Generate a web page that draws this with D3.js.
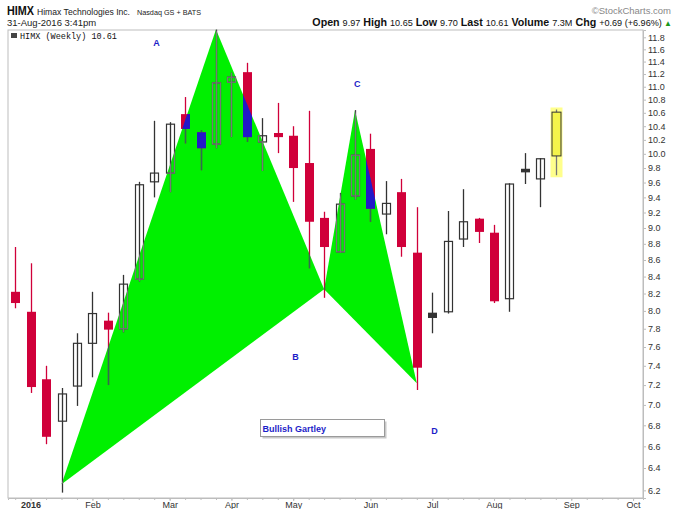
<!DOCTYPE html>
<html><head><meta charset="utf-8">
<script src="https://cdn.jsdelivr.net/npm/d3@7"></script>
<style>
body{margin:0;background:#fff;}
svg{display:block;font-family:"Liberation Sans",Arial,sans-serif;}
</style></head>
<body>
<svg id="c" width="680" height="509"></svg>
<script>
// ---- data ----
const dates = ["2015-12-28","2016-01-04","2016-01-11","2016-01-18","2016-01-25","2016-02-01","2016-02-08","2016-02-15","2016-02-22","2016-02-29","2016-03-07","2016-03-14","2016-03-21","2016-03-28","2016-04-04","2016-04-11","2016-04-18","2016-04-25","2016-05-02","2016-05-09","2016-05-16","2016-05-23","2016-05-30","2016-06-06","2016-06-13","2016-06-20","2016-06-27","2016-07-04","2016-07-11","2016-07-18","2016-07-25","2016-08-01","2016-08-08","2016-08-15","2016-08-22","2016-08-29"];
const opens  = [8.22,7.99,7.26,6.84,7.19,7.64,7.89,7.80,8.37,9.61,9.73,10.58,10.31,10.14,11.07,11.23,10.17,10.30,10.26,9.87,9.13,8.70,9.42,10.07,9.18,9.47,8.69,7.98,7.99,8.86,9.12,8.94,8.14,9.79,9.65,9.97];
const highs  = [8.76,8.56,7.40,7.17,7.75,8.22,7.98,8.42,9.61,10.48,10.46,10.84,10.34,11.93,11.22,11.38,10.52,10.75,10.40,10.63,9.21,9.46,10.64,10.29,9.62,9.65,9.27,8.21,9.22,9.51,9.13,9.04,9.59,10.01,9.94,10.65];
const lows   = [8.03,7.12,6.62,6.18,6.99,7.28,7.20,7.76,8.34,9.40,9.47,10.15,9.77,10.08,10.24,10.17,9.76,10.01,9.34,8.50,8.15,8.69,9.37,9.08,8.92,8.64,7.15,7.75,7.97,8.76,8.81,8.09,7.99,9.58,9.27,9.70];
const closes = [8.09,7.18,6.69,7.11,7.64,7.97,7.79,8.31,9.57,9.73,10.43,10.36,10.08,11.06,11.15,10.24,10.26,10.24,9.80,9.08,8.76,9.31,9.98,9.25,9.32,8.76,7.38,7.92,8.83,9.08,8.95,8.11,9.58,9.74,9.93,10.61];

// Gartley pattern points (X, A, B, C, D)
const patternNames  = ["X","A","B","C","D"];
const patternDates  = ["2016-01-18","2016-03-28","2016-05-16","2016-05-30","2016-06-27"];
const patternPrices = [6.255,11.93,8.25,10.64,7.22];
// letter annotations
const labelTexts  = ["A","B","C","D"];
const labelDates  = ["2016-03-01","2016-05-03","2016-05-31","2016-07-05"];
const labelPrices = [11.65,7.46,11.0,6.72];
const boxText = "Bullish Gartley";
const boxDate = "2016-04-17", boxPrice = 6.86;

const priceTicks = [11.8,11.6,11.4,11.2,11.0,10.8,10.6,10.4,10.2,10.0,9.8,9.6,9.4,9.2,9.0,8.8,8.6,8.4,8.2,8.0,7.8,7.6,7.4,7.2,7.0,6.8,6.6,6.4,6.2];
const monthTickDates  = ["2016-01-04","2016-02-01","2016-03-07","2016-04-04","2016-05-02","2016-06-06","2016-07-04","2016-08-01","2016-09-05","2016-10-03"];
const monthTickLabels = ["2016","Feb","Mar","Apr","May","Jun","Jul","Aug","Sep","Oct"];

const quoteLabels = ["Open","High","Low","Last","Volume","Chg"];
const quoteValues = ["9.97","10.65","9.70","10.61","7.3M","+0.69 (+6.96%)"];

// ---- layout ----
const svg = d3.select("#c");
const L = 8, R = 643, T = 30, B = 498;
const parse = d3.timeParse("%Y-%m-%d");
const x = d3.scaleTime()
  .domain([new Date(2015,11,24,18), new Date(2016,9,7,12)])
  .range([L, R]);
const y = d3.scaleLog().domain([6.133, 11.923]).range([B, T]);

const RED = "#d0003a", BLUE = "#2318c8", GREEN = "#00f000";
const bw = 9;

// header
const hdr = svg.append("g");
hdr.append("text").attr("x",7).attr("y",15).attr("font-size",13.5).attr("font-weight","bold").attr("fill","#111")
  .attr("textLength",27).attr("lengthAdjust","spacingAndGlyphs").text("HIMX");
hdr.append("text").attr("x",37).attr("y",15).attr("font-size",9).attr("fill","#222")
  .attr("textLength",93).attr("lengthAdjust","spacingAndGlyphs").text("Himax Technologies Inc.");
hdr.append("text").attr("x",137).attr("y",15).attr("font-size",7.8).attr("fill","#222")
  .attr("textLength",64).attr("lengthAdjust","spacingAndGlyphs").text("Nasdaq GS + BATS");
hdr.append("text").attr("x",671).attr("y",14).attr("text-anchor","end").attr("font-size",9.5).attr("fill","#888").text("©StockCharts.com");
hdr.append("text").attr("x",7).attr("y",26).attr("font-size",9.5).attr("fill","#222").text("31-Aug-2016 3:41pm");
const q = hdr.append("text").attr("x",672).attr("y",26).attr("text-anchor","end").attr("fill","#111");
quoteLabels.forEach((l,i)=>{
  q.append("tspan").attr("font-weight","bold").attr("font-size",10.7).text((i?" ":"")+l+" ");
  q.append("tspan").attr("font-size",9.1).text(quoteValues[i]);
});
q.append("tspan").attr("font-size",8).attr("fill","#1a9a1a").text(" ▲");

// frame
svg.append("rect").attr("x",L).attr("y",T).attr("width",R-L).attr("height",B-T)
  .attr("fill","#fff").attr("stroke","#bdbdbd").attr("stroke-width",1);

// axes
const yAxis = d3.axisRight(y).tickValues(priceTicks).tickFormat(d3.format(".1f")).tickSize(3).tickPadding(2);
const ga = svg.append("g").attr("transform",`translate(${R},0)`).call(yAxis);
ga.select(".domain").attr("stroke","#bdbdbd");
ga.selectAll(".tick line").attr("stroke","#bdbdbd");
ga.selectAll("text").attr("font-size",9).attr("fill","#333").attr("font-family","Liberation Sans, Arial, sans-serif");

const weekTicks = d3.timeMonday.range(new Date(2015,11,28), new Date(2016,9,8));
const gw = svg.append("g").attr("transform",`translate(0,${B})`)
  .call(d3.axisBottom(x).tickValues(weekTicks).tickSize(2).tickFormat(""));
gw.select(".domain").attr("stroke","#bdbdbd");
gw.selectAll(".tick line").attr("stroke","#bdbdbd");
const gx = svg.append("g").attr("transform",`translate(0,${B})`)
  .call(d3.axisBottom(x).tickValues(monthTickDates.map(parse)).tickSize(3).tickPadding(1)
    .tickFormat((d,i)=>monthTickLabels[i]));
gx.select(".domain").remove();
gx.selectAll(".tick line").attr("stroke","#bdbdbd");
gx.selectAll("text").attr("font-size",9).attr("fill","#333").attr("font-family","Liberation Sans, Arial, sans-serif")
  .attr("font-weight",(d,i)=>i===0?"bold":"normal");

// inner title
const it = svg.append("g");
it.append("rect").attr("x",11).attr("y",33).attr("width",6).attr("height",5).attr("fill","#444");
it.append("text").attr("x",20).attr("y",39).attr("font-family","Liberation Mono, monospace").attr("font-size",8.5).attr("fill","#111").text("HIMX (Weekly) 10.61");

// candles
const candles = dates.map((d,i)=>({date:parse(d),o:opens[i],h:highs[i],l:lows[i],c:closes[i],
  prev: i? closes[i-1] : opens[i], last: i===dates.length-1}));
candles.forEach(k=>{ k.down = k.c < k.prev; k.filled = k.c < k.o; });

// pattern
const pts = patternDates.map((d,i)=>[x(parse(d)), y(patternPrices[i])]);
const tri1 = [pts[0],pts[1],pts[2]], tri2 = [pts[2],pts[3],pts[4]];
const defs = svg.append("defs");
const cp = defs.append("clipPath").attr("id","pat");
[tri1,tri2].forEach(t=>cp.append("path").attr("d","M"+t.join("L")+"Z"));
[tri1,tri2].forEach(t=>svg.append("path").attr("d","M"+t.join("L")+"Z").attr("fill",GREEN));

function drawCandles(g, inside){
  candles.forEach(k=>{
    const cx = Math.round(x(k.date))+0.5;
    const top = y(Math.max(k.o,k.c)), bot = y(Math.min(k.o,k.c));
    if (k.last) {
      if (!inside) {
        g.append("rect").attr("x",cx-bw/2-1.5).attr("y",y(k.h)-2).attr("width",bw+3).attr("height",y(k.l)-y(k.h)+4).attr("fill","#ffff8c");
        g.append("line").attr("x1",cx).attr("x2",cx).attr("y1",y(k.h)).attr("y2",y(k.l)).attr("stroke","#777").attr("stroke-width",1.3);
        g.append("rect").attr("x",cx-bw/2).attr("y",top).attr("width",bw).attr("height",bot-top).attr("fill","#f4f44a").attr("stroke","#333").attr("stroke-width",1);
      }
      return;
    }
    let col;
    if (k.down) col = inside ? BLUE : RED; else col = inside ? "#777" : "#333";
    const wickCol = k.down ? (inside ? "#2b6d55" : RED) : col;
    g.append("line").attr("x1",cx).attr("x2",cx).attr("y1",y(k.h)).attr("y2",y(k.l))
      .attr("stroke",wickCol).attr("stroke-width",1.3);
    if (k.filled) {
      g.append("rect").attr("x",cx-bw/2).attr("y",top).attr("width",bw).attr("height",Math.max(bot-top,1.5)).attr("fill",col);
    } else {
      g.append("rect").attr("x",cx-bw/2+0.5).attr("y",top).attr("width",bw-1).attr("height",Math.max(bot-top,1)).attr("fill","none").attr("stroke",col).attr("stroke-width",1.2);
    }
  });
}
drawCandles(svg.append("g"), false);
drawCandles(svg.append("g").attr("clip-path","url(#pat)"), true);

// letters
labelTexts.forEach((t,i)=>{
  svg.append("text").attr("x",x(parse(labelDates[i]))).attr("y",y(labelPrices[i])).attr("text-anchor","middle")
    .attr("font-size",9).attr("font-weight","bold").attr("fill","#1d1dc8").text(t);
});

// Bullish Gartley box
const bx = Math.round(x(parse(boxDate)))+0.5, by = Math.round(y(boxPrice))+0.5;
svg.append("rect").attr("x",bx+2).attr("y",by+2).attr("width",124).attr("height",17).attr("fill","#c8c8c8");
svg.append("rect").attr("x",bx).attr("y",by).attr("width",124).attr("height",17).attr("fill","#fff").attr("stroke","#9a9a9a");
svg.append("text").attr("x",bx+2).attr("y",by+12).attr("font-size",9).attr("font-weight","bold").attr("fill","#1d1dc8").text(boxText);
</script>
</body></html>
